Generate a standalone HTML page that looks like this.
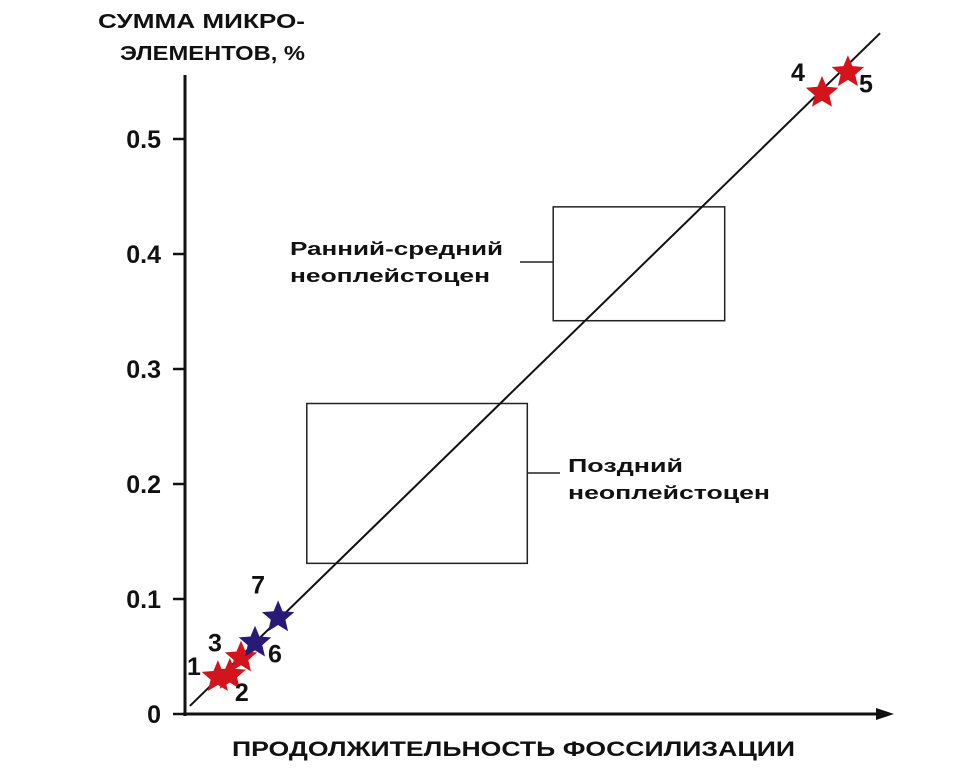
<!DOCTYPE html>
<html><head><meta charset="utf-8"><style>
body{margin:0;background:#fff}
svg text{font-family:"Liberation Sans",sans-serif;font-weight:bold;fill:#111}
</style></head><body>
<svg id="c" width="975" height="764" viewBox="0 0 975 764"></svg>
<script>
const yTicks=[0,0.1,0.2,0.3,0.4,0.5];
const yTickLabels=["0","0.1","0.2","0.3","0.4","0.5"];
const pointLabels=["1","2","3","6","7","4","5"];
const pointX=[0.47,0.64,0.8,1.0,1.33,9.1,9.47];
const pointY=[0.032,0.034,0.049,0.062,0.084,0.540,0.558];
const pointColors=["#d4141c","#d4141c","#d4141c","#2a1a78","#2a1a78","#d4141c","#d4141c"];
const trendX=[0.07,9.93];
const trendY=[0.007,0.592];
const boxX=[[5.26,7.71],[1.74,4.89]];
const boxY=[[0.342,0.441],[0.131,0.270]];
const NS="http://www.w3.org/2000/svg";
const svg=document.getElementById('c');
const X=t=>185+t*70, Y=v=>714-v*1150;
function mk(tag,a,p){const e=document.createElementNS(NS,tag);for(const k in a)e.setAttribute(k,a[k]);(p||svg).appendChild(e);return e;}
function txt(s,x,y,size,anchor,len){const o={x:x,y:y,'font-size':size,'text-anchor':anchor||'start'};if(len){o.textLength=len;o.lengthAdjust='spacingAndGlyphs';}const t=mk('text',o);t.textContent=s;return t;}
let a=mk('line',{x1:185,y1:75,x2:185,y2:716,stroke:'#111','stroke-width':3});


a=mk('line',{x1:183,y1:714,x2:880,y2:714,stroke:'#111','stroke-width':3});


a=mk('polygon',{points:'894,714 876,708 876,720',fill:'#111'});


yTicks.forEach((v,i)=>{
 const l=mk('line',{x1:173,y1:Y(v),x2:185,y2:Y(v),stroke:'#111','stroke-width':2.5});
 
 
 const t=txt(yTickLabels[i],161,Y(v)+9,25,'end');
 
 
});
boxX.forEach((bx,i)=>{
 const r=mk('rect',{x:X(bx[0]),y:Y(boxY[i][1]),width:X(bx[1])-X(bx[0]),height:Y(boxY[i][0])-Y(boxY[i][1]),fill:'none',stroke:'#222','stroke-width':1.5});
 
 
});
a=mk('line',{x1:520,y1:262,x2:553,y2:262,stroke:'#222','stroke-width':1.5});


a=mk('line',{x1:527,y1:473,x2:560,y2:473,stroke:'#222','stroke-width':1.5});


a=mk('line',{x1:X(trendX[0]),y1:Y(trendY[0]),x2:X(trendX[1]),y2:Y(trendY[1]),stroke:'#111','stroke-width':2});


function star(cx,cy,R){let p=[];for(let i=0;i<10;i++){const r=i%2?R*0.45:R;const an=-Math.PI/2+i*Math.PI/5;p.push((cx+r*Math.cos(an)).toFixed(1)+','+(cy+r*Math.sin(an)).toFixed(1));}return p.join(' ');}
const lblOff={"1":[-24,-2],"2":[12,26],"3":[-26,-6],"6":[20,20],"7":[-20,-24],"4":[-24,-12],"5":[18,20]};
pointX.forEach((x,i)=>{
 const s=mk('polygon',{points:star(X(x),Y(pointY[i]),17),fill:pointColors[i]});
 
 
 const o=lblOff[pointLabels[i]];
 const t=txt(pointLabels[i],X(x)+o[0],Y(pointY[i])+o[1],25,'middle');
 
 
});
let t=txt('Ранний-средний',290,255,18,'start',213);
t=txt('неоплейстоцен',290,282,18,'start',200);
t=txt('Поздний',568,472,18,'start',115);
t=txt('неоплейстоцен',568,499,18,'start',202);
t=txt('СУММА  МИКРО-',98,28,20,'start',207);
t=txt('ЭЛЕМЕНТОВ, %',120,60,20,'start',185);
t=txt('ПРОДОЛЖИТЕЛЬНОСТЬ  ФОССИЛИЗАЦИИ',232,756,21,'start',563);
</script>
</body></html>
